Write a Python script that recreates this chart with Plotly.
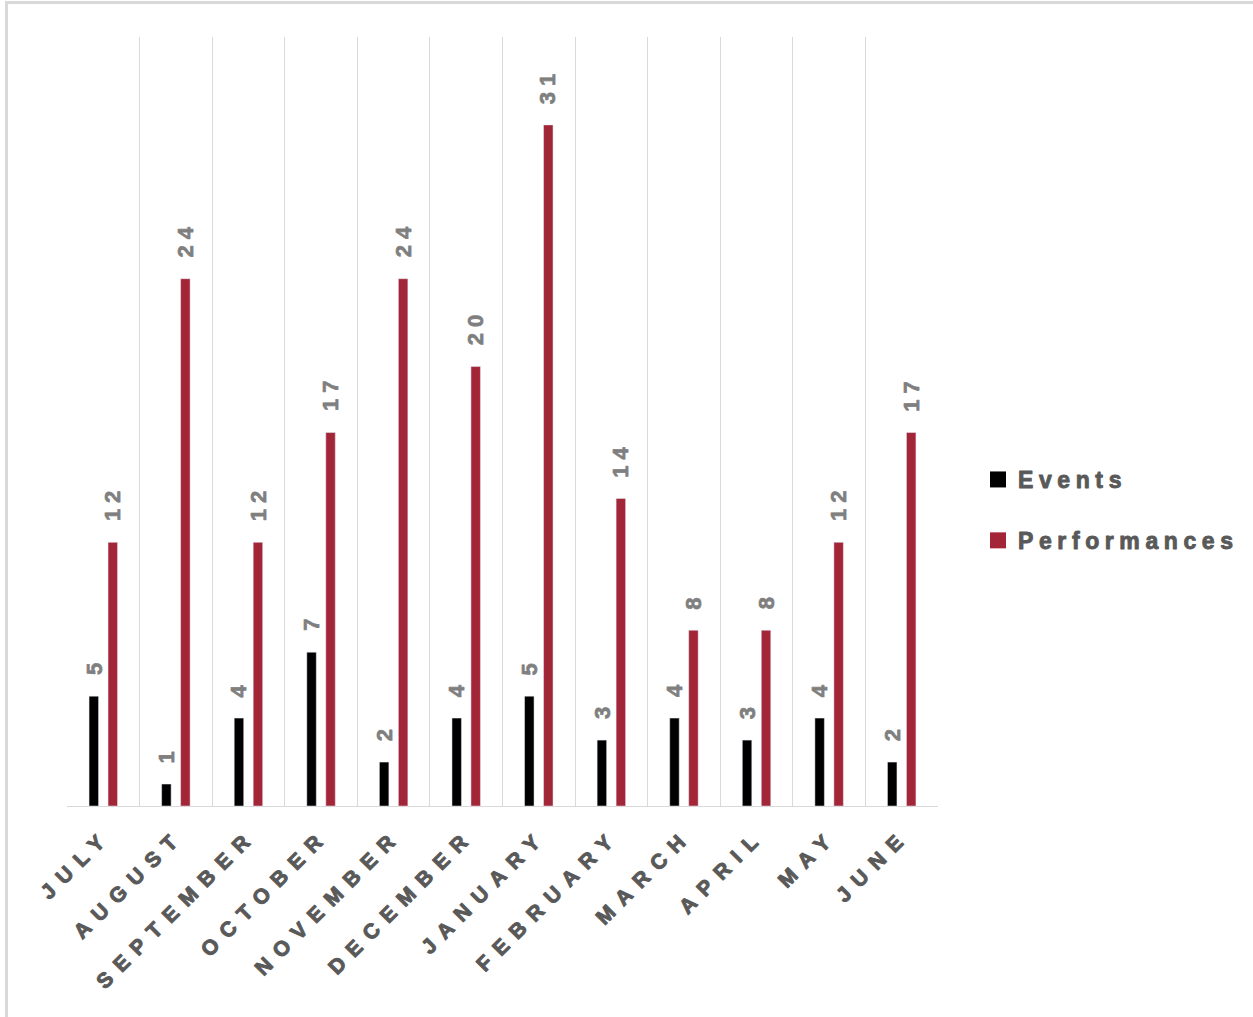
import plotly.graph_objects as go

months = ["JULY", "AUGUST", "SEPTEMBER", "OCTOBER", "NOVEMBER", "DECEMBER",
          "JANUARY", "FEBRUARY", "MARCH", "APRIL", "MAY", "JUNE"]
events = [5, 1, 4, 7, 2, 4, 5, 3, 4, 3, 4, 2]
performances = [12, 24, 12, 17, 24, 20, 31, 14, 8, 8, 12, 17]

EV_COLOR = "#000000"
PF_COLOR = "#A32638"
LABEL_GREY = "#7F7F7F"
TEXT_GREY = "#595959"
GRID = "#D9D9D9"
FONT = "Liberation Sans"

W, H = 1253, 1017
L, R, T, B = 67, 315, 37, 211
plot_w = W - L - R
plot_h = H - T - B

fig = go.Figure()
fig.add_trace(go.Bar(x=months, y=events, name="Events", marker_color=EV_COLOR,
                     showlegend=False, hoverinfo="x+y"))
fig.add_trace(go.Bar(x=months, y=performances, name="Performances", marker_color=PF_COLOR,
                     showlegend=False, hoverinfo="x+y"))

# legend proxies (larger square swatches)
fig.add_trace(go.Scatter(x=[None], y=[None], mode="markers", name="<b>Events</b>",
                         legendgroup="a",
                         marker=dict(symbol="square", size=16, color=EV_COLOR)))
fig.add_trace(go.Scatter(x=[None], y=[None], mode="markers", name="<b>Performances</b>",
                         legendgroup="b",
                         marker=dict(symbol="square", size=16, color=PF_COLOR)))

bargap = 0.477
bargroupgap = 0.5
cat_w = plot_w / len(months)
offset_px = cat_w * (1 - bargap) / 4
LS_DATA = 6

annotations = []
for series, sign in ((events, -1), (performances, 1)):
    for m, v in zip(months, series):
        txt = str(v)
        annotations.append(dict(
            x=m, y=v, xref="x", yref="y", text="<b>" + txt + "</b>", showarrow=False,
            textangle=-90, xanchor="center", yanchor="bottom",
            xshift=sign * offset_px, yshift=19 + len(txt) * LS_DATA / 2,
            font=dict(family=FONT, size=22, color=LABEL_GREY),
        ))

def px_to_paper_x(px):
    return (px - L) / plot_w

def px_to_paper_y(py):
    return (H - B - py) / plot_h

shapes = [
    dict(type="line", xref="paper", yref="paper",
         x0=px_to_paper_x(6.5), x1=px_to_paper_x(6.5),
         y0=px_to_paper_y(H + 5), y1=px_to_paper_y(1.5),
         line=dict(color=GRID, width=3)),
    dict(type="line", xref="paper", yref="paper",
         x0=px_to_paper_x(5), x1=px_to_paper_x(W + 5),
         y0=px_to_paper_y(2.5), y1=px_to_paper_y(2.5),
         line=dict(color=GRID, width=3)),
]

fig.update_layout(
    width=W, height=H,
    margin=dict(l=L, r=R, t=T, b=B, autoexpand=False),
    paper_bgcolor="white", plot_bgcolor="white",
    barmode="group", bargap=bargap, bargroupgap=bargroupgap,
    font=dict(family=FONT, color=TEXT_GREY),
    annotations=annotations,
    shapes=shapes,
    legend=dict(
        x=px_to_paper_x(978), y=px_to_paper_y(510), xanchor="left", yanchor="middle",
        font=dict(family=FONT, size=23, color=TEXT_GREY),
        traceorder="grouped", tracegroupgap=28, bgcolor="rgba(0,0,0,0)",
        itemsizing="trace",
    ),
    xaxis=dict(
        type="category", categoryorder="array", categoryarray=months,
        tickmode="array", tickvals=months, ticktext=["<b>" + m + "</b>" for m in months],
        tickson="boundaries", ticks="", showgrid=True, gridcolor=GRID, gridwidth=1,
        showline=True, linecolor=GRID, linewidth=1,
        tickangle=-45, ticklabelstandoff=8, ticklabelshift=2,
        tickfont=dict(family=FONT, size=21, color=TEXT_GREY),
        zeroline=False,
    ),
    yaxis=dict(range=[0, 35], showgrid=False, showticklabels=False, zeroline=False,
               showline=False, ticks=""),
)

post = """
var gd = document.getElementById('{plot_id}');
function style(t, ls, col, sw){
  t.setAttribute('letter-spacing', ls);
  t.style.stroke = col;
  t.style.strokeWidth = sw;
  t.style.strokeLinejoin = 'round';
}
function spacing(){
  gd.querySelectorAll('.xtick text').forEach(function(t){ style(t, '9.5px', '%s', '1px'); });
  gd.querySelectorAll('text.legendtext').forEach(function(t){ style(t, '5.6px', '%s', '0.9px'); });
  gd.querySelectorAll('text.annotation-text').forEach(function(t){ style(t, '%dpx', '%s', '0.7px'); });
  gd.querySelectorAll('.legend .scrollbox').forEach(function(s){ s.removeAttribute('clip-path'); });
  gd.querySelectorAll('.legend').forEach(function(s){ s.removeAttribute('clip-path'); });
}
spacing();
setTimeout(spacing, 0);
setTimeout(spacing, 300);
if (gd && gd.on) { gd.on('plotly_afterplot', spacing); }
""" % (TEXT_GREY, TEXT_GREY, LS_DATA, LABEL_GREY)

fig.write_html("out.html", post_script=post)
